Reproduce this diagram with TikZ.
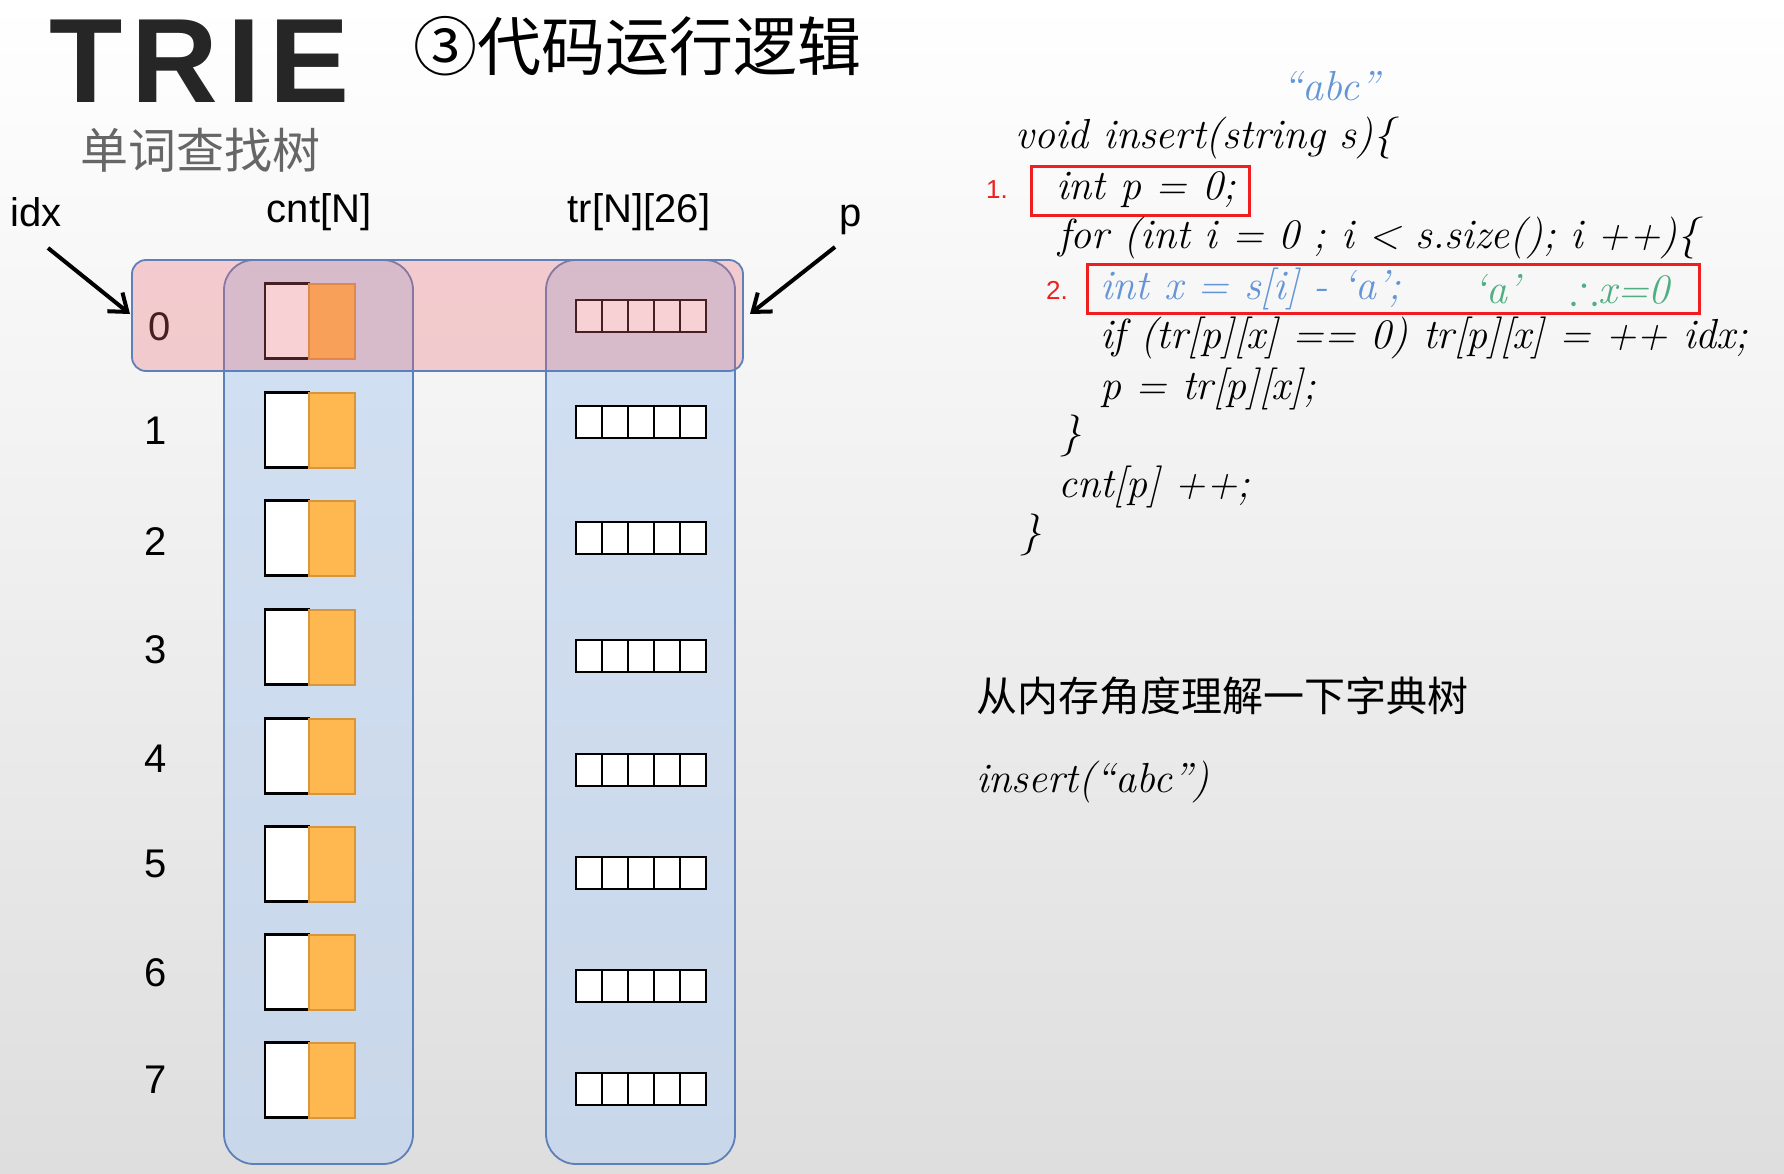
\documentclass[tikz,border=0pt]{standalone}
\usepackage{fontspec}
\usepackage{amssymb}
\usetikzlibrary{arrows.meta}
\setmainfont{Liberation Sans}
\newfontfamily\cjk{Noto Sans CJK SC}
\newfontfamily\codefont{Latin Modern Roman}
\newfontfamily\triefont[LetterSpace=7.5]{Liberation Sans}
\definecolor{colblue}{RGB}{190,212,240}
\definecolor{colborder}{RGB}{92,128,185}
\definecolor{rowpink}{RGB}{235,104,113}
\definecolor{cellorange}{RGB}{255,184,80}
\definecolor{cellorangeb}{RGB}{215,150,60}
\definecolor{codeblue}{RGB}{100,150,215}
\definecolor{codegreen}{RGB}{80,175,130}
\definecolor{hlred}{RGB}{240,30,30}
\tikzset{
  colbox/.style={draw=colborder, line width=1.8pt, fill=colblue, fill opacity=0.65, rounded corners=30pt},
  rowbox/.style={draw=colborder, line width=1.8pt, fill=rowpink, fill opacity=0.3, rounded corners=14pt},
  whitecell/.style={draw=black, line width=2.2pt, fill=white, minimum width=44pt, minimum height=75pt, inner sep=0pt, outer sep=0pt},
  orangecell/.style={draw=cellorangeb, line width=2pt, fill=cellorange, minimum width=46pt, minimum height=75pt, inner sep=0pt, outer sep=0pt},
  trcell/.style={draw=black, line width=2.6pt, fill=white, minimum width=26pt, minimum height=32pt, inner sep=0pt, outer sep=0pt},
  lbl/.style={font=\fontsize{40}{44}\selectfont, inner sep=0pt},
  rownum/.style={font=\fontsize{40}{44}\selectfont, inner sep=0pt},
  code/.style={font=\codefont\itshape\fontsize{42}{46}\selectfont, inner sep=0pt, anchor=west},
  hlbox/.style={draw=hlred, line width=3pt},
  ptr/.style={line width=4pt, -{Straight Barb[length=16pt,width=24pt,line width=4pt]}},
}
\begin{document}
\begin{tikzpicture}[x=1pt,y=-1pt]
\shade[top color=white, bottom color=black!13, shading angle=0] (0,0) rectangle (1784,1174);
\useasboundingbox (0,0) rectangle (1784,1174);
% titles
\node[inner sep=0pt, anchor=west, font=\triefont\bfseries\fontsize{120}{124}\selectfont, text=black!85, text depth=0pt] (trie) at (49,61) {TRIE};
\node[inner sep=0pt, anchor=west, font=\cjk\fontsize{64}{70}\selectfont] (title) at (413,46) {③代码运行逻辑};
\node[inner sep=0pt, anchor=west, font=\cjk\fontsize{48}{52}\selectfont, text=black!60] (sub) at (80,150) {单词查找树};
% header labels
\node[lbl] (idx) at (36,212) {idx};
\node[lbl] (cntN) at (319,212) {cnt[N]};
\node[lbl] (trN) at (639,212) {tr[N][26]};
\node[lbl] (plbl) at (851,220) {p};
% column boxes
\draw[colbox] (224,260) rectangle (413,1164);
\draw[colbox] (546,260) rectangle (735,1164);
% rows
\foreach \i/\nx/\cy/\ty/\ny in {0/160/321/316/327,1/156/430/422/431,2/156/538/538/542,3/156/647/656/650,4/156/756/770/759,5/156/864/873/864,6/156/972/986/973,7/156/1080/1089/1080}{
  \node[rownum] (n\i) at (\nx,\ny) {\i};
  \node[whitecell, anchor=east] (cw\i) at (309,\cy) {};
  \node[orangecell, anchor=west] (co\i) at (309,\cy) {};
  \foreach \k in {0,...,4}{
    \node[trcell, anchor=west] (tc\i\k) at (576+26*\k,\ty) {};
  }
}
% highlighted row 0
\draw[rowbox] (132,260) rectangle (743,371);
% pointers
\coordinate (idxtail) at (48,248);
\coordinate (idxhead) at (130,314);
\coordinate (ptail) at (835,247);
\coordinate (phead) at (750,314);
\draw[ptr] (idxtail) -- (idxhead);
\draw[ptr] (ptail) -- (phead);
% code
\node[code, anchor=center, text=codeblue] (abc) at (1331,86) {“abc”};
\node[code] (c1) at (1015,138) {void insert(string s)\{};
\node[inner sep=0pt, text=hlred, font=\fontsize{26}{28}\selectfont] (one) at (997,190) {1.};
\draw[hlbox] (1031,167) rectangle (1249,216);
\node[code] (c2) at (1056,190) {int p = 0;};
\node[code] (c3) at (1058,238) {for (int i = 0 ; i < s.size(); i ++)\{};
\node[inner sep=0pt, text=hlred, font=\fontsize{26}{28}\selectfont] (two) at (1057,290) {2.};
\draw[hlbox] (1087,264) rectangle (1699,313);
\node[code, text=codeblue] (c4) at (1100,289) {int x = s[i] - ‘a’;};
\node[code, anchor=center, text=codegreen] (c4a) at (1497,289) {‘a’};
\node[code, text=codegreen] (c4b) at (1570,289) {$\therefore$x=0};
\node[code] (c5) at (1100,338) {if (tr[p][x] == 0) tr[p][x] = ++ idx;};
\node[code] (c6) at (1100,389) {p = tr[p][x];};
\node[code] (c7) at (1060,436) {\}};
\node[code] (c8) at (1058,487) {cnt[p] ++;};
\node[code] (c9) at (1020,535) {\}};
\node[inner sep=0pt, anchor=west, font=\cjk\fontsize{41}{45}\selectfont] (memo) at (976,696) {从内存角度理解一下字典树};
\node[code] (call) at (976,782) {insert(“abc”)};
\end{tikzpicture}
\end{document}
